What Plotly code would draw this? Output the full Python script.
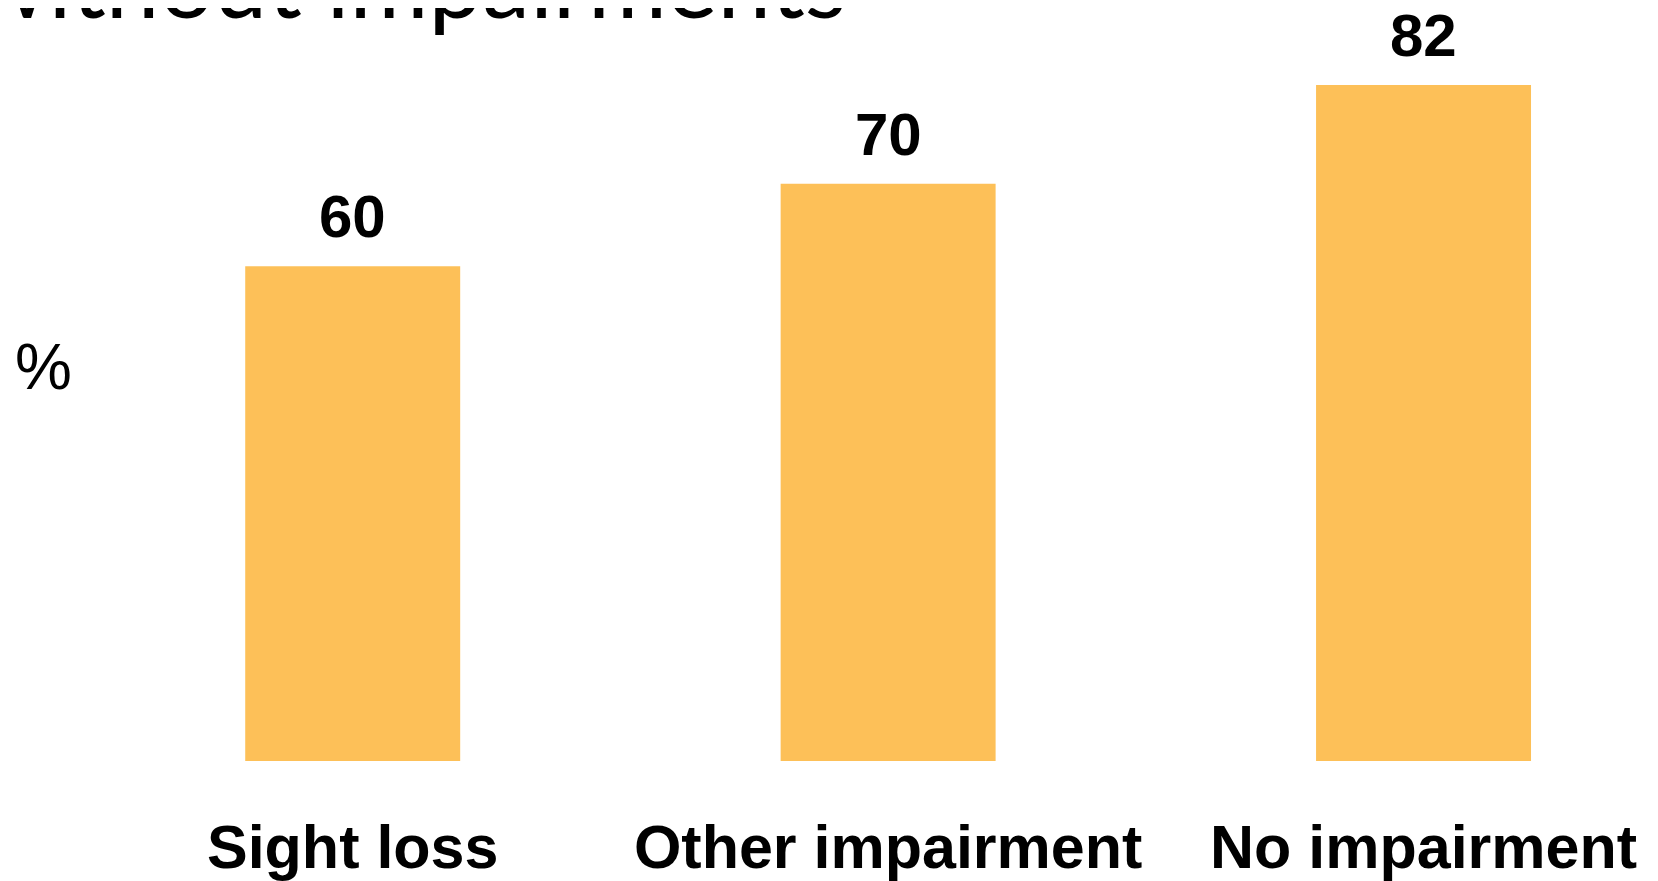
import plotly.graph_objects as go

categories = ["Sight loss", "Other impairment", "No impairment"]
values = [60, 70, 82]
value_labels = ["60", "70", "82"]
title_text = "without impairments"
y_axis_label = "%"

BAR_COLOR = "#FDC058"
# the page body has an 8px margin; the figure is sized so it fits the window
OFF = 8
W, H = 1658 - OFF, 881 - OFF
ML, MR, MT, MB = 76.75, 0, 0, 120

plot_w = W - ML - MR
plot_h = H - MT - MB

fig = go.Figure()
fig.add_trace(go.Bar(
    x=categories, y=values,
    marker=dict(color=BAR_COLOR, line=dict(width=0)),
    width=0.4015,
    hoverinfo="skip",
))

for c, v, t in zip(categories, values, value_labels):
    fig.add_annotation(
        x=c, y=v, text=t, showarrow=False,
        xanchor="center", yanchor="bottom", yshift=14,
        font=dict(family="Liberation Sans, Arial, sans-serif", size=60,
                  color="#000000", weight="bold"),
    )

# y-axis label "%"
fig.add_annotation(
    xref="paper", yref="paper",
    x=(43.5 - OFF - ML) / plot_w, y=(H - MB - (366.5 - OFF)) / plot_h,
    text=y_axis_label, showarrow=False,
    xanchor="center", yanchor="middle",
    font=dict(family="Liberation Sans, Arial, sans-serif", size=64, color="#000000"),
)

# partially cropped title at the top
fig.add_annotation(
    xref="paper", yref="paper",
    x=(848 - OFF - ML) / plot_w, y=(H - MB - (16 - OFF)) / plot_h,
    text=title_text, showarrow=False,
    xanchor="right", yanchor="bottom", yshift=-24,
    font=dict(family="Lato, Liberation Sans, sans-serif", size=96,
              color="#000000", weight="normal"),
)

fig.update_layout(
    width=W, height=H,
    margin=dict(l=ML, r=MR, t=MT, b=MB, pad=0),
    paper_bgcolor="#FFFFFF", plot_bgcolor="#FFFFFF",
    showlegend=False,
    bargap=0.6,
    xaxis=dict(
        type="category",
        range=[-0.5, -0.5 + plot_w / 535.5],
        showgrid=False, zeroline=False, showline=False,
        ticks="", ticklabelstandoff=45,
        tickfont=dict(family="Liberation Sans, Arial, sans-serif", size=61,
                      color="#000000", weight="bold"),
        fixedrange=True,
    ),
    yaxis=dict(
        range=[0, plot_h / 8.245],
        showgrid=False, zeroline=False, showline=False,
        showticklabels=False, ticks="",
        fixedrange=True,
    ),
)

fig.write_html("out.html", config={"displayModeBar": False})
